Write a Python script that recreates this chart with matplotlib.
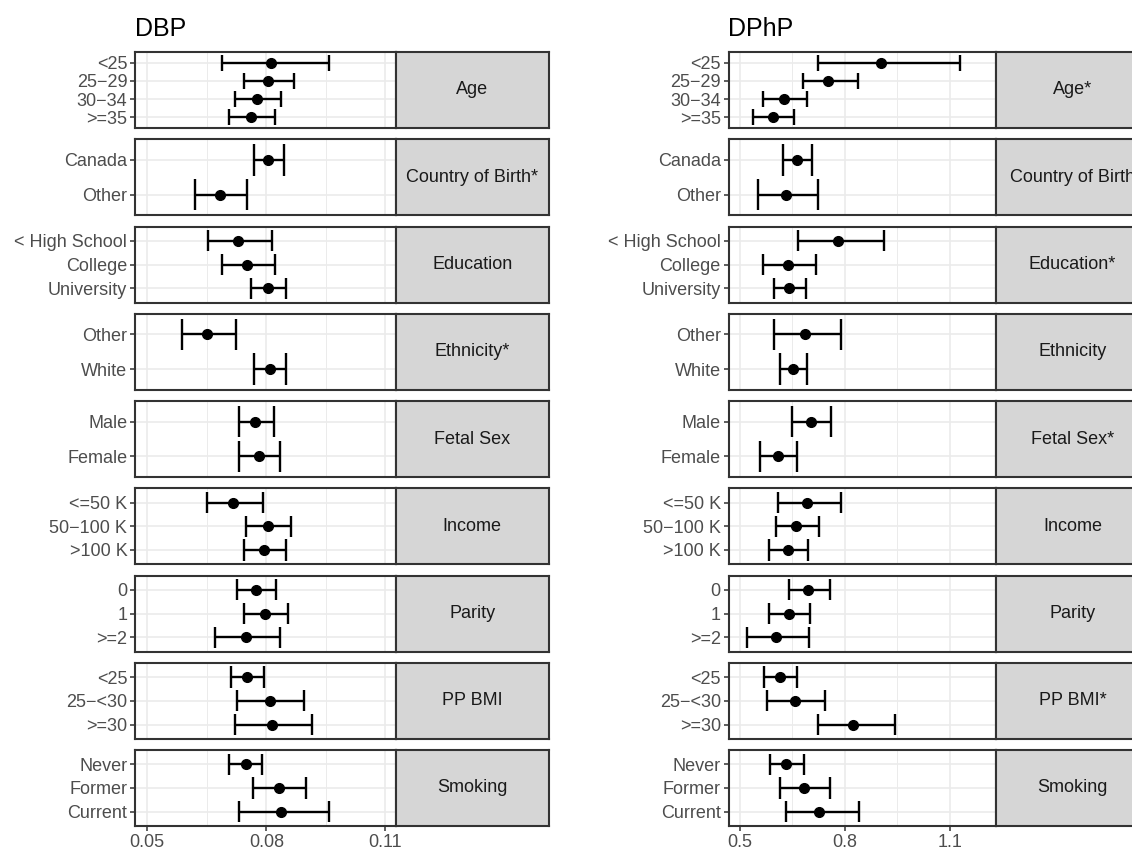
import matplotlib
matplotlib.use("Agg")
import matplotlib.pyplot as plt

plt.rcParams['font.family'] = ['Liberation Sans', 'DejaVu Sans']

# ---------------- data ----------------
M = "\u2212"
groups = ["Age", "Country of Birth", "Education", "Ethnicity", "Fetal Sex",
          "Income", "Parity", "PP BMI", "Smoking"]
dbp_strip = ["Age", "Country of Birth*", "Education", "Ethnicity*", "Fetal Sex",
             "Income", "Parity", "PP BMI", "Smoking"]
dphp_strip = ["Age*", "Country of Birth", "Education*", "Ethnicity", "Fetal Sex*",
              "Income", "Parity", "PP BMI*", "Smoking"]
levels = [
    ["<25", "25" + M + "29", "30" + M + "34", ">=35"],
    ["Canada", "Other"],
    ["< High School", "College", "University"],
    ["Other", "White"],
    ["Male", "Female"],
    ["<=50 K", "50" + M + "100 K", ">100 K"],
    ["0", "1", ">=2"],
    ["<25", "25" + M + "<30", ">=30"],
    ["Never", "Former", "Current"],
]

# DBP estimates and 95% CI (flat, in order of levels)
dbp_est = [0.0811, 0.0804, 0.0777, 0.0761,
           0.0804, 0.0682,
           0.0729, 0.0750, 0.0804,
           0.0651, 0.0808,
           0.0772, 0.0781,
           0.0716, 0.0804, 0.0793,
           0.0775, 0.0796, 0.0748,
           0.0751, 0.0808, 0.0813,
           0.0748, 0.0831, 0.0837]
dbp_lo = [0.0687, 0.0743, 0.0720, 0.0707,
          0.0768, 0.0619,
          0.0653, 0.0687, 0.0761,
          0.0588, 0.0770,
          0.0730, 0.0730,
          0.0651, 0.0748, 0.0743,
          0.0727, 0.0743, 0.0671,
          0.0712, 0.0727, 0.0720,
          0.0707, 0.0766, 0.0730]
dbp_hi = [0.0957, 0.0869, 0.0836, 0.0822,
          0.0844, 0.0751,
          0.0813, 0.0822, 0.0849,
          0.0723, 0.0849,
          0.0819, 0.0835,
          0.0792, 0.0862, 0.0849,
          0.0824, 0.0855, 0.0835,
          0.0795, 0.0895, 0.0914,
          0.0788, 0.0900, 0.0957]

# DPhP estimates and 95% CI
dphp_est = [0.904, 0.753, 0.627, 0.594,
            0.664, 0.632,
            0.781, 0.636, 0.641,
            0.687, 0.651,
            0.703, 0.610,
            0.693, 0.660, 0.638,
            0.695, 0.639, 0.602,
            0.614, 0.656, 0.824,
            0.632, 0.682, 0.727]
dphp_lo = [0.724, 0.679, 0.567, 0.536,
           0.622, 0.551,
           0.666, 0.567, 0.596,
           0.598, 0.613,
           0.649, 0.558,
           0.610, 0.603, 0.583,
           0.639, 0.583, 0.521,
           0.568, 0.578, 0.722,
           0.586, 0.615, 0.632]
dphp_hi = [1.130, 0.839, 0.692, 0.655,
           0.705, 0.724,
           0.912, 0.716, 0.690,
           0.789, 0.693,
           0.761, 0.662,
           0.790, 0.727, 0.695,
           0.758, 0.700, 0.696,
           0.663, 0.744, 0.943,
           0.682, 0.758, 0.841]

dbp_ticks = [0.05, 0.08, 0.11]
dbp_minor = [0.065, 0.095]
dbp_xlim = (0.0469, 0.1126)
dbp_ticklabels = ["0.05", "0.08", "0.11"]
dphp_ticks = [0.5, 0.8, 1.1]
dphp_minor = [0.65, 0.95]
dphp_xlim = (0.467, 1.2325)
dphp_ticklabels = ["0.5", "0.8", "1.1"]

# ---------------- layout ----------------
W, H = 1132, 851
fig = plt.figure(figsize=(W / 100, H / 100), dpi=100)

BORDER = "#333333"
GRID = "#EBEBEB"
STRIP = "#D6D6D6"
TXT = "#4D4D4D"
FS = 13

panel_top0 = 52
panel_step = 87.25
panel_h = 76


def rect(x0, top, w, h):
    return [x0 / W, 1 - (top + h) / H, w / W, h / H]


def draw_column(title, x0, x1, strip_w, est, lo, hi, strips, xlim, ticks, minor, ticklabels):
    fig.text(x0 / W, 1 - 36 / H, title, fontsize=18, color="black",
             ha="left", va="baseline")
    k = 0
    for gi, levs in enumerate(levels):
        top = panel_top0 + gi * panel_step
        ax = fig.add_axes(rect(x0, top, x1 - x0, panel_h))
        n = len(levs)
        ys = [n - i for i in range(n)]
        e = est[k:k + n]
        l = lo[k:k + n]
        h = hi[k:k + n]
        k += n
        ax.set_xlim(*xlim)
        ax.set_ylim(0.4, n + 0.6)
        # grid
        for t in ticks:
            ax.axvline(t, color=GRID, lw=1.2, zorder=0)
        for t in minor:
            ax.axvline(t, color=GRID, lw=0.7, zorder=0)
        for y in ys:
            ax.axhline(y, color=GRID, lw=1.2, zorder=0)
        # error bars
        ax.hlines(ys, l, h, color="black", lw=1.7, zorder=2)
        ax.vlines(l, [y - 0.45 for y in ys], [y + 0.45 for y in ys], color="black", lw=1.7, zorder=2)
        ax.vlines(h, [y - 0.45 for y in ys], [y + 0.45 for y in ys], color="black", lw=1.7, zorder=2)
        ax.plot(e, ys, "o", color="black", ms=7, zorder=3)
        ax.set_yticks(ys)
        ax.set_yticklabels(levs, fontsize=FS, color=TXT)
        ax.tick_params(axis="y", length=3.5, width=1.1, color=BORDER, pad=2)
        ax.set_xticks(ticks)
        if gi == len(levels) - 1:
            ax.set_xticklabels(ticklabels, fontsize=FS, color=TXT)
            ax.tick_params(axis="x", length=3.5, width=1.1, color=BORDER, pad=2)
        else:
            ax.tick_params(axis="x", length=0, labelbottom=False)
        for s in ax.spines.values():
            s.set_color(BORDER)
            s.set_linewidth(1.5)
        ax.set_facecolor("white")
        # strip
        sax = fig.add_axes(rect(x1, top, strip_w, panel_h))
        sax.set_xlim(0, 1)
        sax.set_ylim(0, 1)
        sax.set_facecolor(STRIP)
        sax.set_xticks([])
        sax.set_yticks([])
        for s in sax.spines.values():
            s.set_color(BORDER)
            s.set_linewidth(1.5)
        sax.text(0.5, 0.5, strips[gi], fontsize=FS, color="#1A1A1A",
                 ha="center", va="center")


draw_column("DBP", 135, 395.7, 153.3, dbp_est, dbp_lo, dbp_hi, dbp_strip,
            dbp_xlim, dbp_ticks, dbp_minor, dbp_ticklabels)
draw_column("DPhP", 728.5, 996, 153.3, dphp_est, dphp_lo, dphp_hi, dphp_strip,
            dphp_xlim, dphp_ticks, dphp_minor, dphp_ticklabels)

fig.savefig("out.png", dpi=100, facecolor="white")
